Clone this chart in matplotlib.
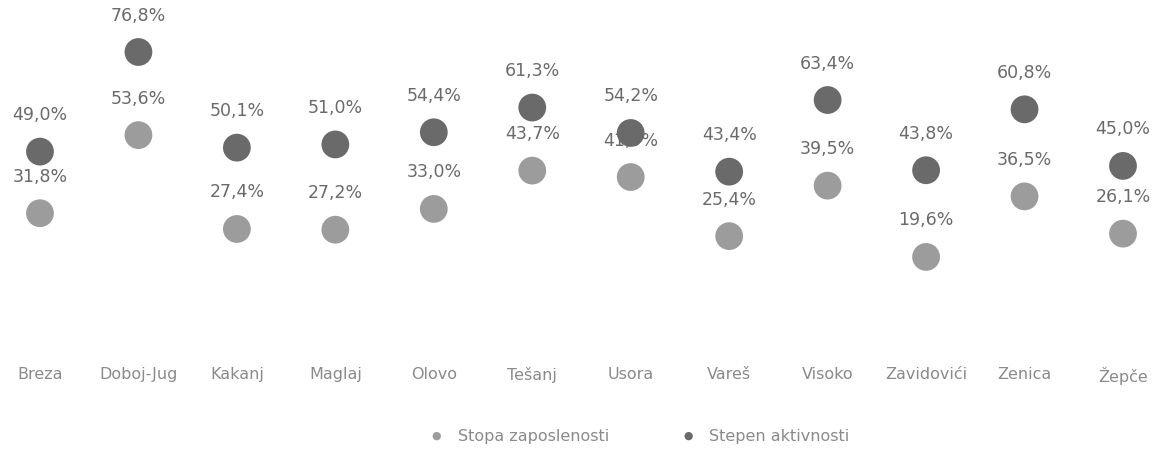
import matplotlib
matplotlib.use("Agg")
import matplotlib.pyplot as plt

categories = ["Breza", "Doboj-Jug", "Kakanj", "Maglaj", "Olovo", "Tešanj", "Usora",
              "Vareš", "Visoko", "Zavidovići", "Zenica", "Žepče"]
stopa_zaposlenosti = [31.8, 53.6, 27.4, 27.2, 33.0, 43.7, 41.9, 25.4, 39.5, 19.6, 36.5, 26.1]
stepen_aktivnosti = [49.0, 76.8, 50.1, 51.0, 54.4, 61.3, 54.2, 43.4, 63.4, 43.8, 60.8, 45.0]
series_names = ["Stopa zaposlenosti", "Stepen aktivnosti"]

col_zap = "#9c9c9c"
col_akt = "#6a6a6a"

fig = plt.figure(figsize=(11.55, 4.56), dpi=100)
ax = fig.add_axes([0.0, 0.2325, 1.0, 0.7675])

x = list(range(len(categories)))
ax.scatter(x, stopa_zaposlenosti, s=400, color=col_zap, edgecolors="none",
           label=series_names[0], zorder=3)
ax.scatter(x, stepen_aktivnosti, s=400, color=col_akt, edgecolors="none",
           label=series_names[1], zorder=3)

def fmt(v):
    return f"{v:.1f}".replace(".", ",") + "%"

for xi, v in zip(x, stopa_zaposlenosti):
    ax.annotate(fmt(v), (xi, v), xytext=(0, 27), textcoords="offset points",
                ha="center", va="center", fontsize=12.5, color="#6a6a6a")
for xi, v in zip(x, stepen_aktivnosti):
    ax.annotate(fmt(v), (xi, v), xytext=(0, 27), textcoords="offset points",
                ha="center", va="center", fontsize=12.5, color="#6a6a6a")

ax.set_xlim(-0.406, 11.325)
ax.set_ylim(-6.1, 91.6)
ax.set_xticks(x)
ax.set_xticklabels(categories, fontsize=11.5, color="#8a8a8a")
ax.tick_params(axis="x", length=0, pad=12)
ax.set_yticks([])
for sp in ax.spines.values():
    sp.set_visible(False)
ax.set_facecolor("none")

leg = fig.legend(loc="center", bbox_to_anchor=(0.55, 0.042), ncol=2, frameon=False,
                 fontsize=11.5, markerscale=0.3, handletextpad=0.3, columnspacing=4.0,
                 labelcolor="#8a8a8a")

fig.savefig("out.png", dpi=100, facecolor="white")
